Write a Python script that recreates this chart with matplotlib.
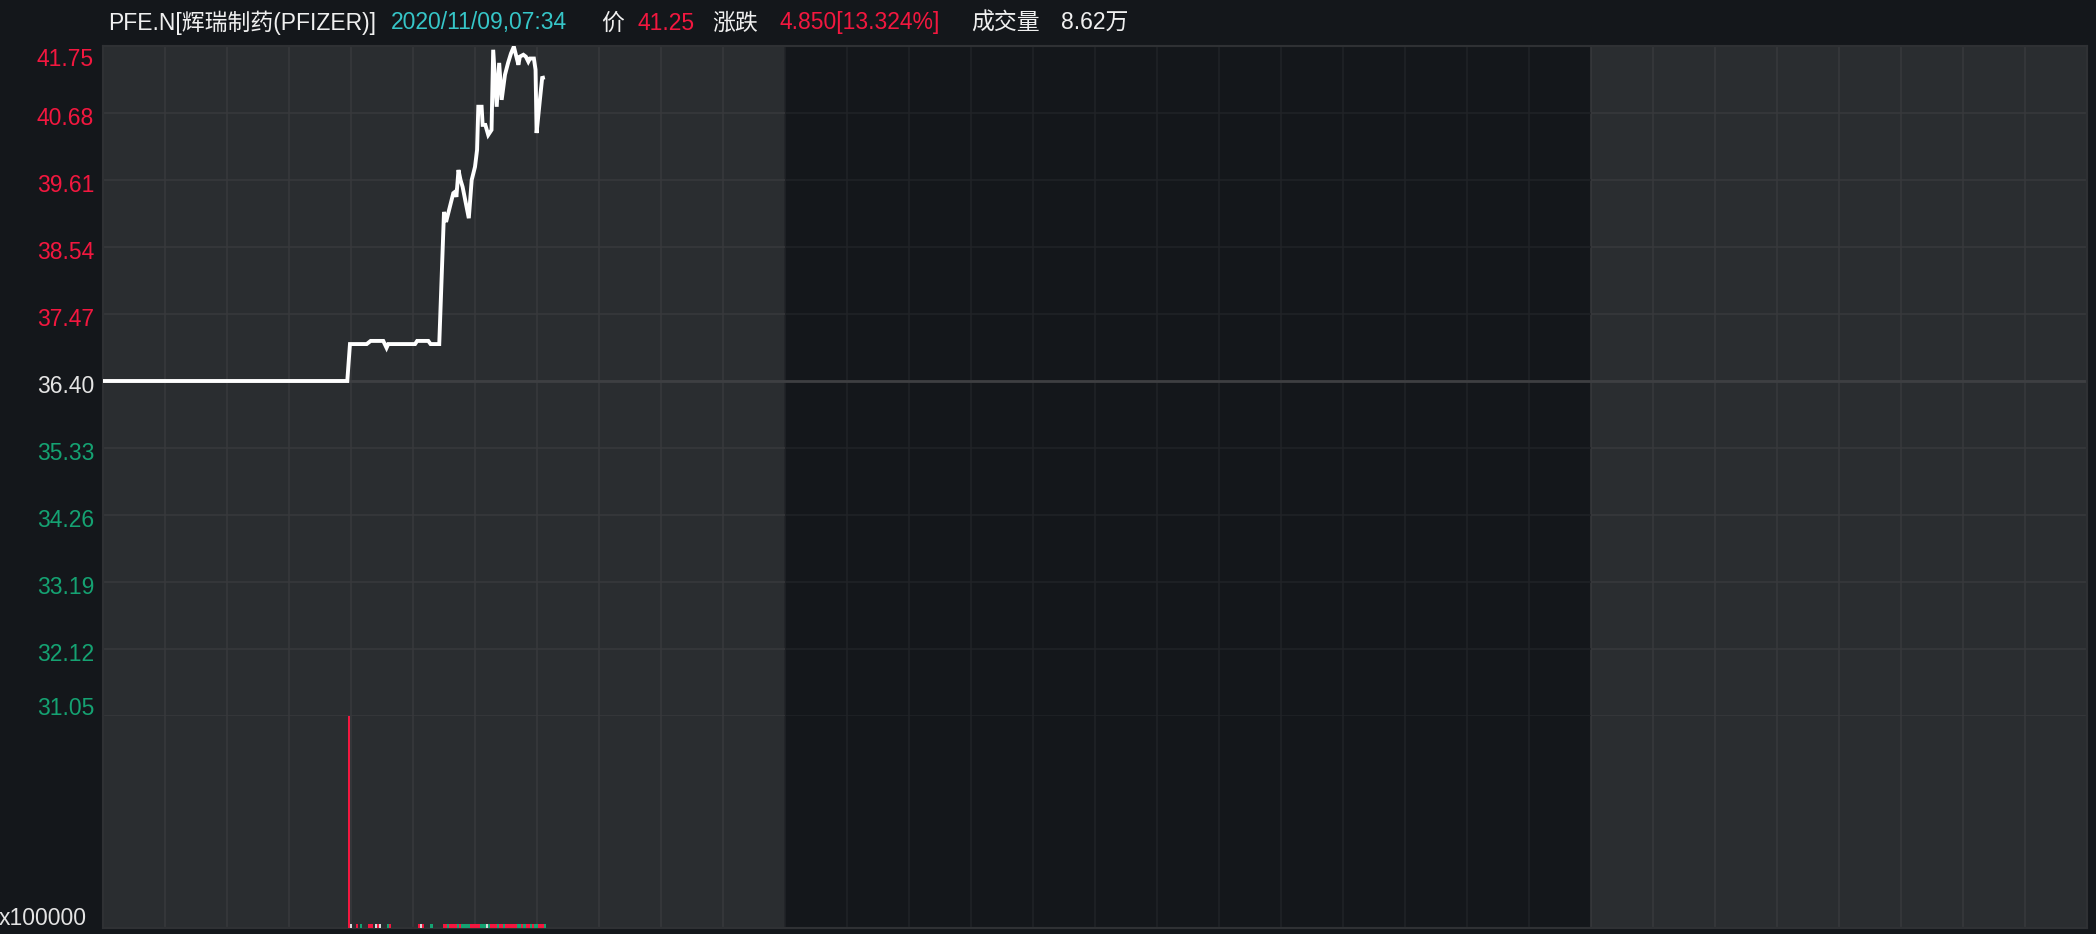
import matplotlib
matplotlib.use("Agg")
import matplotlib.pyplot as plt
import matplotlib.transforms as mtrans

# ---------------- data ----------------
# minutes after 04:00 (US pre-market open); vertices of the price line
price_minutes = [0, 118.2, 119.5, 127.6, 129.5, 135.6, 137.2, 138.0, 151.0, 152.0,
                 157.4, 158.5, 162.7, 165.0, 166.0, 169.5, 170.3, 171.0, 172.0, 173.0,
                 174.0, 177.0, 178.4, 180.0, 181.0, 181.6, 183.2, 183.7, 185.0, 186.4,
                 188.0, 188.8, 190.5, 191.7, 192.9, 194.5, 196.0, 197.4, 198.8, 201.0,
                 201.7, 203.4, 204.6, 205.8, 206.6, 208.5, 209.3, 209.8, 211.4, 212.5,
                 213.8]
price_values = [36.40, 36.40, 36.99, 36.99, 37.04, 37.04, 36.93, 36.99, 36.99, 37.04,
                37.04, 36.99, 36.99, 39.10, 38.94, 39.40, 39.42, 39.34, 39.77, 39.61,
                39.50, 39.00, 39.61, 39.82, 40.09, 40.78, 40.78, 40.49, 40.49, 40.33,
                40.41, 41.69, 40.78, 41.48, 40.89, 41.29, 41.48, 41.63, 41.74, 41.45,
                41.58, 41.61, 41.58, 41.50, 41.55, 41.55, 41.37, 40.36, 40.89, 41.24,
                41.25]
prev_close = 36.40
price_ticks = [41.75, 40.68, 39.61, 38.54, 37.47, 36.40, 35.33, 34.26, 33.19, 32.12, 31.05]

vol_minutes = [119, 120, 123, 125, 129, 130, 132, 133, 134, 138, 139, 153, 154, 155, 159,
               165, 166, 167, 168, 169, 170, 171, 172, 173, 174,
               175, 176, 177, 178, 179, 180, 181, 182, 183, 184,
               185, 186, 187, 188, 189, 190, 191, 192, 193, 194,
               195, 196, 197, 198, 199, 200, 201, 202, 203, 204,
               205, 206, 207, 208, 209, 210, 211, 212, 213, 214]
vol_values = [38200, 760, 720, 740, 780, 760, 730, 750, 720, 740, 770, 760, 730, 750, 740,
              780, 760, 740, 770, 750, 760, 740, 730, 760, 750,
              740, 760, 750, 770, 760, 740, 750, 760, 740, 730,
              750, 740, 760, 770, 750, 740, 760, 750, 740, 760,
              770, 750, 760, 740, 750, 760, 740, 750, 760, 740,
              750, 760, 740, 750, 760, 740, 750, 760, 750, 740]
vol_dirs = ("rwrgrrwrwgrrwrg"
            "rrgrrrrgrg" "gggrrrrrgg" "gwgrrrgrrg" "rrrrrrggrg" "rrgrggrrrg")

session_bounds = [0, 330, 720, 960]        # pre-market | regular | after-hours
grid_minutes = [30 * k for k in range(1, 32)]

header_parts = ["PFE.N[辉瑞制药(PFIZER)]", "2020/11/09,07:34", "价", "41.25",
                "涨跌", "4.850[13.324%]", "成交量", "8.62万"]
header_kinds = ["w", "c", "w", "r", "w", "r", "w", "w"]

# ---------------- style ----------------
W, H = 2096, 934
BG = "#14171b"
LIGHT = "#2a2d30"
DARK = "#14171b"
GRID_L = "#38393c"
GRID_D = "#212327"
RED = "#f3173f"
GREEN = "#15a272"
WHITE = "#f0f0f0"
CYAN = "#36c6c8"
FONT = ["Liberation Sans", "Noto Sans CJK SC"]
plt.rcParams["font.family"] = FONT
FS = 16.5

fig = plt.figure(figsize=(W / 100, H / 100), dpi=100, facecolor=BG)

L, R = 103, 2087
T, MID, B = 46, 716, 928
ax = fig.add_axes([L / W, 1 - MID / H, (R - L) / W, (MID - T) / H])
axv = fig.add_axes([L / W, 1 - B / H, (R - L) / W, (B - MID) / H], sharex=ax)

region_fill = [LIGHT, DARK, LIGHT]
region_grid = [GRID_L, GRID_D, GRID_L]

for a in (ax, axv):
    a.set_facecolor(BG)
    for i in range(3):
        a.axvspan(session_bounds[i], session_bounds[i + 1], color=region_fill[i], lw=0, zorder=0)
    for gm in grid_minutes:
        idx = 0 if gm < session_bounds[1] else (1 if gm < session_bounds[2] else 2)
        a.axvline(gm, color=region_grid[idx], lw=1.1, zorder=1)
    a.set_xticks([])
    a.set_yticks([])
    for s in a.spines.values():
        s.set_color("#2f3134")
        s.set_linewidth(1.5)
ax.spines["bottom"].set_visible(False)
axv.spines["top"].set_visible(False)

ax.set_xlim(session_bounds[0], session_bounds[-1])
ax.set_ylim(price_ticks[-1], price_ticks[0])

# horizontal gridlines (region coloured)
for pt in price_ticks[1:]:
    for i in range(3):
        ax.hlines(pt, session_bounds[i], session_bounds[i + 1], colors=region_grid[i],
                  lw=1.1, zorder=1, clip_on=False)
ax.axhline(prev_close, color="#3e3f42", lw=2.0, zorder=1.5)

# price line
ax.plot(price_minutes, price_values, color="white", lw=2.8, zorder=5,
        solid_joinstyle="miter", solid_capstyle="butt")

# y tick labels
for pt in price_ticks:
    if pt > prev_close + 1e-9:
        col = RED
    elif pt < prev_close - 1e-9:
        col = GREEN
    else:
        col = "#e4e4e4"
    if pt == price_ticks[0]:
        dy = -20
    elif pt == price_ticks[-1]:
        dy = 1
    else:
        dy = -12
    tr = mtrans.offset_copy(ax.get_yaxis_transform(), fig=fig, x=-9, y=dy, units="dots")
    ax.text(0, pt, f"{pt:.2f}", transform=tr, ha="right", va="baseline",
            color=col, fontsize=FS, clip_on=False)

# volume
cmap = {"r": RED, "g": GREEN, "w": "#d8d8d8"}
axv.bar(vol_minutes, vol_values, width=1.1, color=[cmap[c] for c in vol_dirs],
        linewidth=0, zorder=4, align="center")
axv.set_ylim(0, max(vol_values))
axv.set_xlim(session_bounds[0], session_bounds[-1])
fig.text(87 / W, 1 - 925 / H, "x100000", ha="right", va="baseline",
         color="#e4e4e4", fontsize=FS)

# header
header_x = [108, 391, 601, 638, 712, 780, 971, 1061]
kind_col = {"w": WHITE, "c": CYAN, "r": RED}
for s, k, x in zip(header_parts, header_kinds, header_x):
    fig.text(x / W, 1 - 23 / H, s, ha="left", va="center", color=kind_col[k],
             fontsize=FS)

fig.savefig("out.png", dpi=100, facecolor=BG)
